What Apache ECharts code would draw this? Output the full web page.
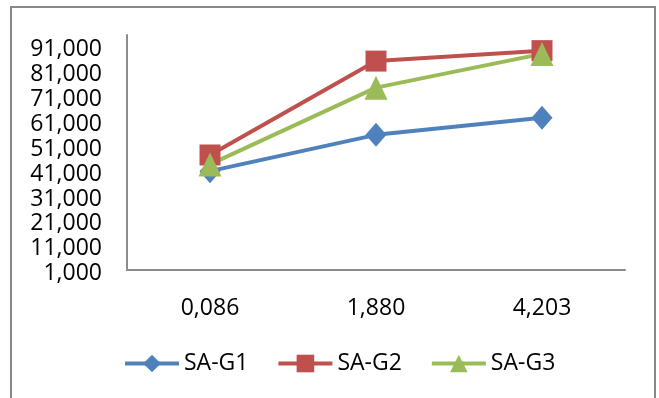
<!DOCTYPE html>
<html>
<head>
<meta charset="utf-8">
<script src="https://cdn.jsdelivr.net/npm/echarts@6/dist/echarts.min.js"></script>
<style>
html,body{margin:0;padding:0;background:#fff;}
#chart{width:659px;height:398px;}
</style>
</head>
<body>
<div id="chart"></div>
<script>
var categories = ['0,086', '1,880', '4,203'];
var seriesNames = ['SA-G1', 'SA-G2', 'SA-G3'];
var sag1 = [40800, 55400, 62300];
var sag2 = [47300, 85100, 89300];
var sag3 = [43500, 74400, 88000];
var yMin = 1000;
var yMax = 95600;
var yStep = 10000;

var FONT = 'Open Sans';
var FS = 23;
var chart = echarts.init(document.getElementById('chart'), null, {renderer: 'canvas'});
var colors = ['#4F81BD', '#C0504D', '#9BBB59'];
var symbols = ['diamond', 'rect', 'triangle'];
var sizes = [[21, 24], [21, 21], [23, 24]];
var data = [sag1, sag2, sag3];

chart.setOption({
  animation: false,
  color: colors,
  textStyle: {fontFamily: FONT, color: '#000'},
  graphic: [{
    type: 'rect',
    shape: {x: 11, y: 7, width: 644, height: 420},
    style: {fill: 'none', stroke: '#888888', lineWidth: 2},
    silent: true
  }],
  grid: {left: 127, top: 35, right: 34, bottom: 128},
  legend: {
    left: 118,
    top: 347,
    itemWidth: 54,
    itemHeight: 22,
    itemGap: 28,
    lineStyle: {width: 4},
    textStyle: {fontFamily: FONT, fontSize: FS, color: '#000'},
    data: seriesNames
  },
  xAxis: {
    type: 'category',
    data: categories,
    boundaryGap: true,
    axisLine: {lineStyle: {color: '#8c8c8c', width: 2}},
    axisTick: {show: false},
    axisLabel: {margin: 27, fontFamily: FONT, fontSize: FS, color: '#000'},
    splitLine: {show: false}
  },
  yAxis: {
    type: 'value',
    min: yMin,
    max: yMax,
    interval: yStep,
    axisLine: {show: true, lineStyle: {color: '#8c8c8c', width: 2}},
    axisTick: {show: false},
    splitLine: {show: false},
    axisLabel: {
      margin: 25,
      fontFamily: FONT,
      fontSize: FS,
      color: '#000',
      showMaxLabel: false,
      formatter: function (v) { return '{a|' + v.toLocaleString('en-US') + '}'; },
      rich: {a: {fontFamily: FONT, fontSize: FS, color: '#000', padding: [7, 0, 0, 0]}}
    }
  },
  series: seriesNames.map(function (n, i) {
    return {
      name: n,
      type: 'line',
      data: data[i],
      symbol: symbols[i],
      symbolSize: sizes[i],
      showAllSymbol: true,
      lineStyle: {width: 4, color: colors[i]},
      itemStyle: {color: colors[i]}
    };
  })
});
</script>
</body>
</html>
